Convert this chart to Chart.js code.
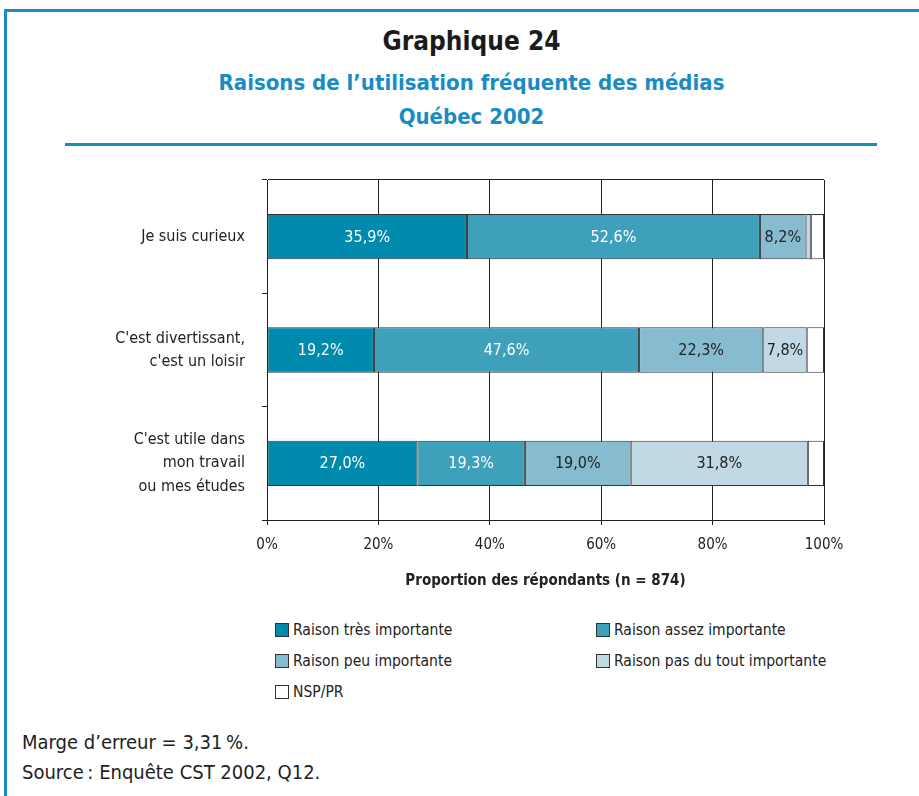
<!DOCTYPE html>
<html lang="fr">
<head>
<meta charset="utf-8">
<title>Graphique 24</title>
<script src="https://cdn.jsdelivr.net/npm/chart.js@4.4.1/dist/chart.umd.min.js"></script>
<style>
  html, body { margin: 0; padding: 0; background: #fff; }
  body { width: 919px; height: 796px; position: relative; overflow: hidden;
         font-family: 'DejaVu Sans Condensed', 'Liberation Sans Narrow', sans-serif; color: #222; }
  #frame { position: absolute; left: 4px; top: 9px; width: 1000px; height: 1000px;
           border-top: 3px solid #1a8cc4; border-left: 3px solid #1a8cc4; }
  #titre { position: absolute; left: 0; width: 943px; top: 26px; text-align: center;
           font-weight: bold; font-size: 26px; line-height: 30px; color: #1b1b1b; }
  #soustitre { position: absolute; left: 0; width: 943px; top: 66px; text-align: center;
               font-weight: bold; font-size: 22px; line-height: 34px; color: #1a8cc4; }
  #regle { position: absolute; left: 65px; top: 143px; width: 812px; height: 3px; background: #1a8cc4; }
  #zone { position: absolute; left: 0; top: 150px; width: 919px; height: 460px; }
  #legende { position: absolute; left: 275px; top: 619px; width: 560px; font-size: 15.5px; }
  .item { position: absolute; height: 22px; line-height: 22px; white-space: nowrap; }
  .item span.boite { display: inline-block; width: 12px; height: 12px; border: 1px solid #333;
                     vertical-align: -2px; margin-right: 4px; }
  #notes { position: absolute; left: 22px; top: 727px; font-size: 20px; line-height: 30px; color: #222; }
</style>
</head>
<body>
<div id="frame"></div>
<div id="titre">Graphique 24</div>
<div id="soustitre">Raisons de l’utilisation fréquente des médias<br>Québec 2002</div>
<div id="regle"></div>
<div id="zone"><canvas id="myChart" width="919" height="460"></canvas></div>
<div id="legende"></div>
<div id="notes">Marge d’erreur = 3,31&#8239;%.<br>Source&#8239;: Enquête CST 2002, Q12.</div>

<script>
var FONT = "'DejaVu Sans Condensed', 'Liberation Sans Narrow', sans-serif";

// categories (axe vertical)
var categories = [
  "Je suis curieux",
  ["C'est divertissant,", "c'est un loisir"],
  ["C'est utile dans", "mon travail", "ou mes études"]
];

// séries (% des répondants)
var tresImportante   = [35.9, 19.2, 27.0];
var assezImportante  = [52.6, 47.6, 19.3];
var peuImportante    = [8.2, 22.3, 19.0];
var pasDuTout        = [1.0, 7.8, 31.8];
var nspPr            = [2.3, 3.1, 2.9];

var seriesNames  = ["Raison très importante", "Raison assez importante", "Raison peu importante", "Raison pas du tout importante", "NSP/PR"];
var seriesColors = ["#008bae", "#3fa0bb", "#87bbd0", "#c0d9e5", "#ffffff"];
var labelColors  = ["#ffffff", "#ffffff", "#222222", "#222222", "#222222"];

var xTicks = [0, 20, 40, 60, 80, 100];

function pct(v) {
  return v.toFixed(1).replace('.', ',') + '%';
}

// étiquettes de valeur au centre des segments
var valueLabels = {
  id: 'valueLabels',
  afterDatasetsDraw: function(chart) {
    var ctx = chart.ctx;
    ctx.save();
    ctx.font = "16px " + FONT;
    ctx.textAlign = 'center';
    ctx.textBaseline = 'middle';
    chart.data.datasets.forEach(function(ds, i) {
      var meta = chart.getDatasetMeta(i);
      meta.data.forEach(function(bar, j) {
        var v = ds.data[j];
        if (v < 5) return;
        ctx.fillStyle = labelColors[i];
        ctx.fillText(pct(v), (bar.x + bar.base) / 2, bar.y + 1);
      });
    });
    ctx.restore();
  }
};

function buildLegend(chart) {
  var box = document.getElementById('legende');
  var pos = [[0, 0], [321, 0], [0, 31], [321, 31], [0, 62]];
  chart.data.datasets.forEach(function(ds, i) {
    var el = document.createElement('div');
    el.className = 'item';
    el.style.left = pos[i][0] + 'px';
    el.style.top = pos[i][1] + 'px';
    el.innerHTML = '<span class="boite" style="background:' + ds.backgroundColor + '"></span>' + ds.label;
    box.appendChild(el);
  });
}

function getGraph() {
  var series = [tresImportante, assezImportante, peuImportante, pasDuTout, nspPr];
  var datasets = series.map(function(d, i) {
    return {
      label: seriesNames[i],
      data: d,
      backgroundColor: seriesColors[i],
      borderColor: '#333333',
      borderWidth: 1,
      borderSkipped: false,
      categoryPercentage: 1,
      barPercentage: 0.4
    };
  });

  var ctx = document.getElementById('myChart').getContext('2d');
  var chart = new Chart(ctx, {
    type: 'bar',
    data: { labels: categories, datasets: datasets },
    plugins: [valueLabels],
    options: {
      indexAxis: 'y',
      responsive: false,
      animation: false,
      layout: { padding: { left: 0, right: 95, top: 30, bottom: 10 } },
      plugins: {
        legend: { display: false },
        tooltip: { enabled: false }
      },
      scales: {
        x: {
          stacked: true,
          min: 0,
          max: 100,
          afterBuildTicks: function(scale) {
            scale.ticks = xTicks.map(function(v) { return { value: v }; });
          },
          afterFit: function(scale) { scale.height = 80; },
          grid: { color: '#222', lineWidth: 1, tickLength: 5 },
          border: { color: '#222', width: 1 },
          ticks: {
            padding: 11,
            color: '#222',
            font: { family: FONT, size: 15 },
            callback: function(v) { return v + '%'; }
          },
          title: {
            display: true,
            text: 'Proportion des répondants (n = 874)',
            color: '#222',
            font: { family: FONT, size: 15, weight: 'bold' },
            padding: { top: 0, bottom: 10 }
          }
        },
        y: {
          stacked: true,
          afterFit: function(scale) {
            scale.width = 267;
            scale.paddingTop = 0;
            scale.paddingBottom = 0;
          },
          grid: {
            offset: true,
            tickLength: 5,
            tickColor: '#222',
            color: function(c) { return c.index === 0 ? '#222' : 'rgba(0,0,0,0)'; }
          },
          border: { color: '#222', width: 1 },
          ticks: {
            padding: 17,
            color: '#222',
            font: { family: FONT, size: 16, lineHeight: 1.45 }
          }
        }
      }
    }
  });
  buildLegend(chart);
}

function init() {
  getGraph();
}

init();
</script>
</body>
</html>
